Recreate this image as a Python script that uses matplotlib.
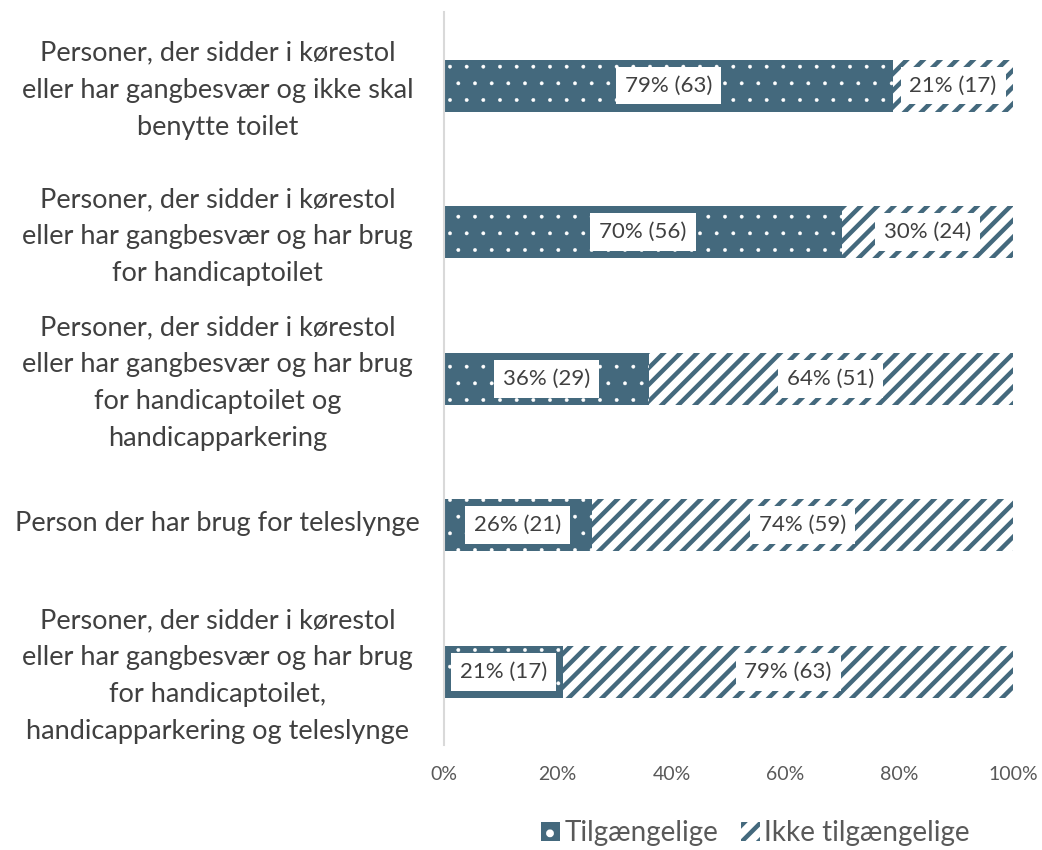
import matplotlib.pyplot as plt
import matplotlib.patches as mpatches
from matplotlib.ticker import PercentFormatter
from matplotlib.transforms import ScaledTranslation

plt.rcParams['font.family'] = ['Lato', 'DejaVu Sans']

categories = [
    "Personer, der sidder i kørestol\neller har gangbesvær og ikke skal\nbenytte toilet",
    "Personer, der sidder i kørestol\neller har gangbesvær og har brug\nfor handicaptoilet",
    "Personer, der sidder i kørestol\neller har gangbesvær og har brug\nfor handicaptoilet og\nhandicapparkering",
    "Person der har brug for teleslynge",
    "Personer, der sidder i kørestol\neller har gangbesvær og har brug\nfor handicaptoilet,\nhandicapparkering og teleslynge",
]
pct_yes = [79, 70, 36, 26, 21]
pct_no = [21, 30, 64, 74, 79]
n_yes = [63, 56, 29, 21, 17]
n_no = [17, 24, 51, 59, 63]

dark = "#44697D"

fig = plt.figure(figsize=(10.42, 8.5), dpi=100)
ax = fig.add_axes([0.426, 0.1235, 0.546, 0.862])

y = list(range(len(categories)))

# dotted bars (available)
plt.rcParams['hatch.linewidth'] = 0.3
b1 = ax.barh(y, pct_yes, height=0.355, color=dark, edgecolor='white', linewidth=0, hatch='.')
h1 = mpatches.Patch(facecolor=dark, edgecolor='white', linewidth=0, hatch='.', label='Tilgængelige')

# striped bars (not available)
plt.rcParams['hatch.linewidth'] = 3.2
b2 = ax.barh(y, pct_no, left=pct_yes, height=0.355, color='white', edgecolor=dark, linewidth=0, hatch='//')
h2 = mpatches.Patch(facecolor='white', edgecolor=dark, linewidth=0, hatch='//', label='Ikke tilgængelige')

box = dict(boxstyle='square,pad=0.4', fc='white', ec='none')
for i in y:
    ax.text(pct_yes[i] / 2, i, f"{pct_yes[i]}% ({n_yes[i]})", ha='center', va='center',
            fontsize=16, color='#404040', bbox=box)
    ax.text(pct_yes[i] + pct_no[i] / 2, i, f"{pct_no[i]}% ({n_no[i]})", ha='center', va='center',
            fontsize=16, color='#404040', bbox=box)

ax.set_xlim(0, 100)
ax.set_ylim(len(categories) - 0.5, -0.5)
ax.set_yticks(y)
ax.set_yticklabels(categories, fontsize=19.5, color='#404040', linespacing=1.6, ha='center')
ax.tick_params(axis='y', length=0, pad=163)
for lab in ax.get_yticklabels():
    lab.set_transform(lab.get_transform() + ScaledTranslation(0, 4 / 100, fig.dpi_scale_trans))
ax.set_xticks([0, 20, 40, 60, 80, 100])
ax.xaxis.set_major_formatter(PercentFormatter(decimals=0))
ax.tick_params(axis='x', length=0, labelsize=14, labelcolor='#595959', pad=15)
for s in ['top', 'right', 'bottom']:
    ax.spines[s].set_visible(False)
ax.spines['left'].set_color('#D9D9D9')
ax.spines['left'].set_linewidth(1.5)

fig.legend(handles=[h1, h2], loc='lower center', bbox_to_anchor=(0.725, -0.025), ncol=2, frameon=False,
           fontsize=20, handlelength=0.7, handleheight=0.7, handletextpad=0.15, columnspacing=0.8,
           labelcolor='#595959')

fig.savefig('out.png', dpi=100)
